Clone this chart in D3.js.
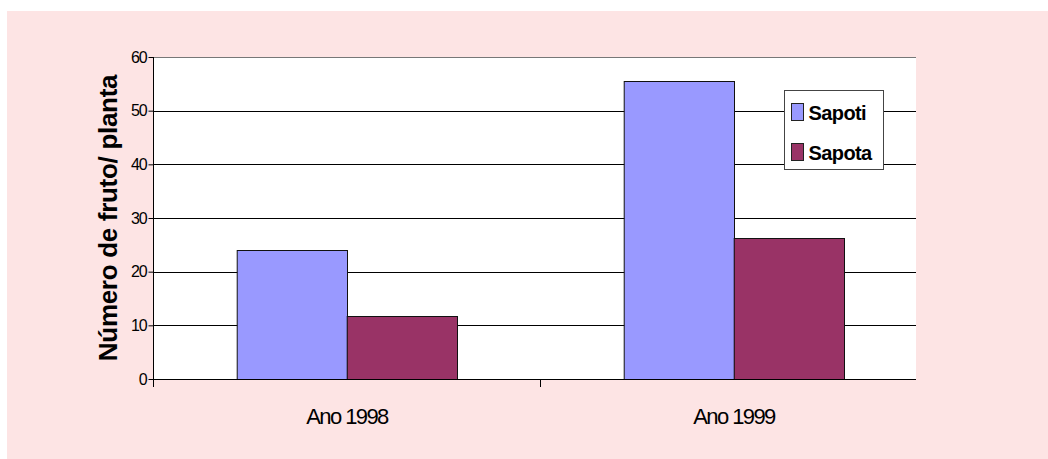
<!DOCTYPE html>
<html>
<head>
<meta charset="utf-8">
<script src="https://cdn.jsdelivr.net/npm/d3@7"></script>
<style>
  body { margin: 0; background: #fff; }
  svg { display: block; font-family: "Liberation Sans", Arial, sans-serif; }
</style>
</head>
<body>
<svg id="chart"></svg>
<script>
// data
var categories = ["Ano 1998", "Ano 1999"];
var seriesNames = ["Sapoti", "Sapota"];
var sapoti = [24, 55.6];
var sapota = [11.7, 26.3];
var yTicks = [0, 10, 20, 30, 40, 50, 60];
var yTitle = "Número de fruto/ planta";

var colors = { "Sapoti": "#9999ff", "Sapota": "#993366" };

var W = 1048, H = 459;
var svg = d3.select("#chart").attr("width", W).attr("height", H);

// pink chart area
svg.append("rect")
    .attr("x", 7).attr("y", 11)
    .attr("width", W - 7).attr("height", H - 11)
    .attr("fill", "#fde4e4");

var plotLeft = 153.5, plotRight = 916, plotTop = 57, plotBottom = 379;

var y = d3.scaleLinear().domain([0, 60]).range([plotBottom, plotTop]);

var x = d3.scaleBand()
    .domain(categories)
    .range([plotLeft, plotLeft + 774])
    .paddingInner(0.43)
    .paddingOuter(0.215);

var x1 = d3.scaleBand().domain(seriesNames).range([0, x.bandwidth()]);

// plot area background
svg.append("rect")
    .attr("x", plotLeft).attr("y", plotTop)
    .attr("width", plotRight - plotLeft).attr("height", plotBottom - plotTop)
    .attr("fill", "#fff");

// gridlines
svg.append("g").selectAll("line")
    .data(yTicks.filter(function (d) { return d > 0; }))
    .enter().append("line")
    .attr("x1", plotLeft).attr("x2", plotRight)
    .attr("y1", function (d) { return Math.round(y(d)) + 0.5; })
    .attr("y2", function (d) { return Math.round(y(d)) + 0.5; })
    .attr("stroke", function (d) { return d === 60 ? "#777" : "#000"; })
    .attr("stroke-width", 1);

// bars
var rows = categories.map(function (c, i) {
    return { cat: c, values: [{ name: "Sapoti", v: sapoti[i] }, { name: "Sapota", v: sapota[i] }] };
});

var groups = svg.append("g").selectAll("g")
    .data(rows).enter().append("g")
    .attr("transform", function (d) { return "translate(" + x(d.cat) + ",0)"; });

groups.selectAll("rect")
    .data(function (d) { return d.values; })
    .enter().append("rect")
    .attr("x", function (d) { return Math.round(x1(d.name)) + 0.5; })
    .attr("y", function (d) { return Math.round(y(d.v)) + 0.5; })
    .attr("width", x1.bandwidth())
    .attr("height", function (d) { return plotBottom - Math.round(y(d.v)); })
    .attr("fill", function (d) { return colors[d.name]; })
    .attr("stroke", "#111")
    .attr("stroke-width", 1);

// y axis
var yAxis = d3.axisLeft(y).tickValues(yTicks).tickSize(5).tickPadding(2);
var gY = svg.append("g")
    .attr("transform", "translate(" + (plotLeft) + ",0)")
    .call(yAxis);
gY.select(".domain").remove();
gY.selectAll(".tick line").attr("stroke", "#000");
gY.selectAll(".tick text")
    .attr("fill", "#000")
    .style("font-size", "16px")
    .style("letter-spacing", "-1.2px");

svg.append("line")
    .attr("x1", plotLeft).attr("x2", plotLeft)
    .attr("y1", plotTop).attr("y2", plotBottom + 8)
    .attr("stroke", "#000");

// x axis
svg.append("line")
    .attr("x1", plotLeft).attr("x2", plotRight)
    .attr("y1", plotBottom + 0.5).attr("y2", plotBottom + 0.5)
    .attr("stroke", "#000");

var bounds = categories.slice(1).map(function (c) {
    return x(c) - x.step() * x.paddingInner() / 2;
});
svg.append("g").selectAll("line")
    .data(bounds).enter().append("line")
    .attr("x1", function (d) { return Math.round(d) + 0.5; })
    .attr("x2", function (d) { return Math.round(d) + 0.5; })
    .attr("y1", plotBottom).attr("y2", plotBottom + 8)
    .attr("stroke", "#000");

var xAxis = d3.axisBottom(x).tickSize(0).tickPadding(0);
var gX = svg.append("g")
    .attr("transform", "translate(0," + plotBottom + ")")
    .call(xAxis);
gX.select(".domain").remove();
gX.selectAll(".tick text")
    .attr("y", 45).attr("dy", 0)
    .attr("fill", "#000")
    .style("font-size", "22px")
    .style("letter-spacing", "-1.6px");

// y title
svg.append("text")
    .attr("transform", "translate(117," + ((plotTop + plotBottom) / 2) + ") rotate(-90)")
    .attr("text-anchor", "middle")
    .style("font-size", "26px")
    .style("font-weight", "bold")
    .style("letter-spacing", "-0.3px")
    .text(yTitle);

// legend
var legend = svg.append("g").attr("transform", "translate(784.5,90.5)");
legend.append("rect")
    .attr("width", 99).attr("height", 79)
    .attr("fill", "#fff")
    .attr("stroke", "#444");
var items = legend.selectAll("g.item")
    .data(seriesNames).enter().append("g")
    .attr("class", "item")
    .attr("transform", function (d, i) { return "translate(0," + (i * 40) + ")"; });
items.append("rect")
    .attr("x", 7).attr("y", 13)
    .attr("width", 12).attr("height", 17)
    .attr("fill", function (d) { return colors[d]; })
    .attr("stroke", "#222");
items.append("text")
    .attr("x", 24).attr("y", 29)
    .style("font-size", "20px")
    .style("font-weight", "bold")
    .style("letter-spacing", "-0.6px")
    .text(function (d) { return d; });
</script>
</body>
</html>
